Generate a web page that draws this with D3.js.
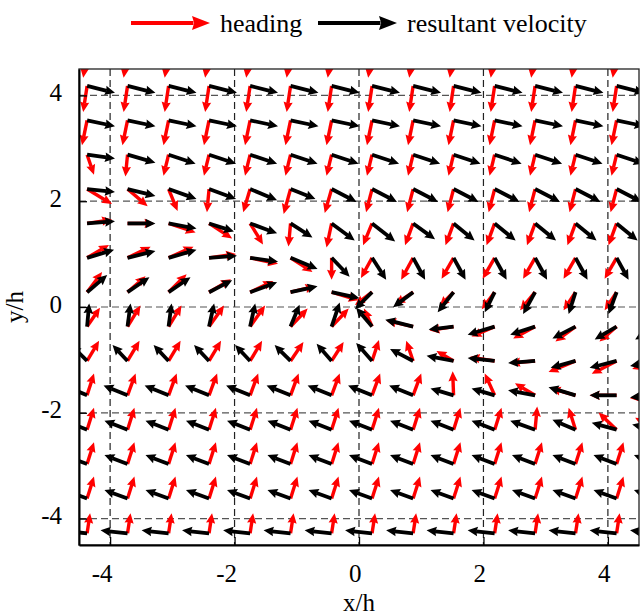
<!DOCTYPE html>
<html>
<head>
<meta charset="utf-8">
<script src="https://cdn.jsdelivr.net/npm/d3@7"></script>
<style>
  body { margin: 0; background: #fff; }
  svg { display: block; }
  text { font-family: "Liberation Serif", "Times New Roman", serif; fill: #000; }
</style>
</head>
<body>
<svg id="chart" width="640" height="616"></svg>
<script>
// Sample locations of the vector field (x/h across, y/h down the rows)
const gridX = [-4.37, -3.72, -3.06, -2.41, -1.75, -1.10, -0.44, 0.21, 0.87, 1.52, 2.18, 2.83, 3.48, 4.14, 4.79];
const gridY = [4.83, 4.18, 3.53, 2.88, 2.23, 1.58, 0.93, 0.28, -0.37, -1.02, -1.67, -2.32, -2.97, -3.62, -4.28];

const xTicks = [-4, -2, 0, 2, 4];
const yTicks = [-4, -2, 0, 2, 4];

// Heading direction [u, v] at every sample, one row per gridY entry
const heading = [
  [[-0.13,-0.87],[-0.13,-0.87],[-0.13,-0.87],[-0.13,-0.87],[-0.13,-0.87],[-0.13,-0.87],[-0.13,-0.87],[-0.13,-0.87],[-0.13,-0.87],[-0.13,-0.87],[-0.13,-0.87],[-0.13,-0.87],[-0.13,-0.87],[-0.13,-0.87],[-0.13,-0.87]],
  [[-0.13,-0.87],[-0.13,-0.87],[-0.13,-0.87],[-0.13,-0.87],[-0.13,-0.87],[-0.13,-0.87],[-0.13,-0.87],[-0.13,-0.87],[-0.13,-0.87],[-0.13,-0.87],[-0.13,-0.87],[-0.13,-0.87],[-0.13,-0.87],[-0.13,-0.87],[-0.13,-0.87]],
  [[-0.17,-0.83],[-0.17,-0.83],[-0.17,-0.83],[-0.17,-0.83],[-0.17,-0.83],[-0.17,-0.83],[-0.17,-0.83],[-0.17,-0.83],[-0.17,-0.83],[-0.17,-0.83],[-0.17,-0.83],[-0.17,-0.83],[-0.17,-0.83],[-0.17,-0.83],[-0.17,-0.83]],
  [[0.23,-0.67],[-0.07,-0.73],[-0.17,-0.7],[-0.17,-0.7],[-0.17,-0.7],[-0.17,-0.7],[-0.17,-0.7],[-0.17,-0.7],[-0.17,-0.7],[-0.17,-0.7],[-0.17,-0.7],[-0.17,-0.7],[-0.17,-0.7],[-0.17,-0.7],[-0.17,-0.7]],
  [[0.83,-0.5],[0.67,-0.57],[0.3,-0.73],[-0.07,-0.77],[-0.23,-0.77],[-0.23,-0.83],[-0.23,-0.8],[-0.2,-0.77],[-0.2,-0.77],[-0.2,-0.77],[-0.2,-0.77],[-0.2,-0.77],[-0.2,-0.77],[-0.2,-0.77],[-0.2,-0.77]],
  [[0.83,0.13],[0.9,0],[0.9,-0.3],[0.77,-0.5],[0.43,-0.7],[-0.07,-0.77],[-0.17,-0.8],[-0.3,-0.73],[-0.27,-0.73],[-0.27,-0.73],[-0.27,-0.73],[-0.27,-0.73],[-0.27,-0.73],[-0.27,-0.73],[-0.27,-0.73]],
  [[0.73,0.43],[0.77,0.37],[0.83,0.37],[0.9,0.13],[0.93,-0.2],[0.73,-0.47],[0,-0.73],[-0.37,-0.67],[-0.4,-0.73],[-0.4,-0.7],[-0.4,-0.7],[-0.4,-0.7],[-0.4,-0.7],[-0.4,-0.7],[-0.4,-0.7]],
  [[0.5,0.67],[0.6,0.53],[0.6,0.6],[0.73,0.43],[0.77,0.37],[0.83,0.2],[0.9,-0.27],[-0.57,-0.43],[-0.6,-0.4],[-0.47,-0.47],[-0.43,-0.57],[-0.5,-0.6],[-0.4,-0.6],[-0.4,-0.6],[-0.4,-0.6]],
  [[0.43,0.63],[0.43,0.7],[0.43,0.7],[0.5,0.7],[0.5,0.7],[0.57,0.6],[0.57,0.6],[-0.27,0.6],[-0.9,0.2],[-0.8,-0.13],[-0.77,-0.33],[-0.73,-0.4],[-0.67,-0.5],[-0.57,-0.5],[-0.57,-0.5]],
  [[0.4,0.67],[0.4,0.67],[0.4,0.67],[0.4,0.67],[0.4,0.67],[0.43,0.63],[0.4,0.63],[0.23,0.7],[-0.23,0.67],[-0.57,0.33],[-0.83,0.13],[-0.83,-0.07],[-0.9,-0.37],[-0.83,-0.43],[-0.83,-0.27]],
  [[0.23,0.73],[0.27,0.73],[0.27,0.73],[0.27,0.73],[0.27,0.73],[0.27,0.73],[0.27,0.73],[0.27,0.73],[0.27,0.73],[-0.03,0.8],[-0.33,0.73],[-0.67,0.4],[-0.83,0.23],[-0.9,0],[-0.9,-0.1]],
  [[0.23,0.73],[0.23,0.73],[0.23,0.73],[0.23,0.73],[0.23,0.73],[0.23,0.73],[0.23,0.73],[0.23,0.73],[0.23,0.73],[0.23,0.73],[0.23,0.73],[0.07,0.77],[-0.23,0.73],[-0.6,0.57],[-0.73,0.4]],
  [[0.23,0.73],[0.23,0.73],[0.23,0.73],[0.23,0.73],[0.23,0.73],[0.23,0.73],[0.23,0.73],[0.23,0.73],[0.23,0.73],[0.23,0.73],[0.23,0.73],[0.23,0.73],[0.23,0.73],[0.23,0.73],[0.23,0.73]],
  [[0.23,0.73],[0.23,0.73],[0.23,0.73],[0.23,0.73],[0.23,0.73],[0.23,0.73],[0.23,0.73],[0.23,0.73],[0.23,0.73],[0.23,0.73],[0.23,0.73],[0.23,0.73],[0.23,0.73],[0.23,0.73],[0.23,0.73]],
  [[0.1,0.67],[0.1,0.67],[0.1,0.67],[0.1,0.67],[0.1,0.67],[0.1,0.67],[0.1,0.67],[0.1,0.67],[0.1,0.67],[0.1,0.67],[0.1,0.67],[0.1,0.67],[0.1,0.67],[0.1,0.67],[0.1,0.67]]
];

// Resultant velocity [u, v] at every sample, one row per gridY entry
const velocity = [
  [[0.93,-0.23],[0.93,-0.23],[0.93,-0.23],[0.93,-0.23],[0.93,-0.23],[0.93,-0.23],[0.93,-0.23],[0.93,-0.23],[0.93,-0.23],[0.93,-0.23],[0.93,-0.23],[0.93,-0.23],[0.93,-0.23],[0.93,-0.23],[0.93,-0.23]],
  [[0.93,-0.23],[0.93,-0.23],[0.93,-0.23],[0.93,-0.23],[0.93,-0.23],[0.93,-0.23],[0.93,-0.23],[0.93,-0.23],[0.93,-0.23],[0.93,-0.23],[0.93,-0.23],[0.93,-0.23],[0.93,-0.23],[0.93,-0.23],[0.93,-0.23]],
  [[0.93,-0.2],[0.93,-0.2],[0.93,-0.2],[0.93,-0.2],[0.93,-0.2],[0.93,-0.2],[0.93,-0.2],[0.93,-0.2],[0.93,-0.2],[0.93,-0.2],[0.93,-0.2],[0.93,-0.2],[0.93,-0.2],[0.93,-0.2],[0.93,-0.2]],
  [[0.93,-0.13],[0.93,-0.27],[0.9,-0.3],[0.9,-0.3],[0.9,-0.3],[0.9,-0.3],[0.9,-0.3],[0.9,-0.3],[0.9,-0.3],[0.9,-0.3],[0.9,-0.3],[0.9,-0.3],[0.9,-0.3],[0.9,-0.3],[0.9,-0.3]],
  [[0.93,-0.1],[0.93,-0.23],[0.93,-0.33],[0.9,-0.33],[0.9,-0.37],[0.83,-0.33],[0.83,-0.43],[0.83,-0.43],[0.83,-0.43],[0.83,-0.43],[0.83,-0.43],[0.83,-0.43],[0.83,-0.43],[0.83,-0.43],[0.83,-0.43]],
  [[0.93,0.07],[0.93,0],[0.93,-0.17],[0.83,-0.27],[0.9,-0.33],[0.73,-0.47],[0.77,-0.57],[0.77,-0.6],[0.73,-0.53],[0.7,-0.57],[0.7,-0.57],[0.7,-0.57],[0.7,-0.57],[0.7,-0.57],[0.7,-0.57]],
  [[0.9,0.27],[0.93,0.23],[0.93,0.27],[0.93,0.07],[0.93,-0.13],[0.9,-0.37],[0.6,-0.63],[0.47,-0.73],[0.4,-0.73],[0.4,-0.73],[0.4,-0.73],[0.4,-0.73],[0.4,-0.73],[0.4,-0.73],[0.4,-0.73]],
  [[0.67,0.57],[0.73,0.5],[0.73,0.5],[0.77,0.4],[0.9,0.33],[0.9,0.2],[0.93,-0.2],[-0.57,-0.57],[-0.67,-0.5],[-0.53,-0.67],[-0.33,-0.67],[-0.4,-0.73],[-0.23,-0.73],[-0.27,-0.73],[-0.27,-0.73]],
  [[0.07,0.77],[0.1,0.77],[0.1,0.77],[0.17,0.77],[0.17,0.77],[0.3,0.73],[0.27,0.8],[-0.53,0.63],[-0.93,0.23],[-0.83,-0.1],[-0.9,-0.27],[-0.83,-0.27],[-0.77,-0.4],[-0.73,-0.43],[-0.73,-0.43]],
  [[-0.53,0.53],[-0.5,0.53],[-0.5,0.53],[-0.5,0.53],[-0.5,0.53],[-0.53,0.53],[-0.5,0.57],[-0.53,0.6],[-0.77,0.4],[-0.9,0.17],[-0.9,0.1],[-0.9,-0.07],[-0.83,-0.23],[-0.9,-0.23],[-0.9,-0.17]],
  [[-0.77,0.33],[-0.8,0.33],[-0.8,0.33],[-0.8,0.33],[-0.8,0.33],[-0.8,0.33],[-0.8,0.33],[-0.8,0.33],[-0.8,0.33],[-0.77,0.23],[-0.77,0.23],[-0.9,0.17],[-0.9,0.27],[-0.9,0],[-0.9,-0.07]],
  [[-0.77,0.3],[-0.77,0.3],[-0.77,0.3],[-0.77,0.3],[-0.77,0.3],[-0.77,0.3],[-0.77,0.3],[-0.77,0.3],[-0.77,0.3],[-0.77,0.3],[-0.77,0.3],[-0.83,0.3],[-0.77,0.33],[-0.83,0.23],[-0.83,0.17]],
  [[-0.77,0.3],[-0.77,0.3],[-0.77,0.3],[-0.77,0.3],[-0.77,0.3],[-0.77,0.3],[-0.77,0.3],[-0.77,0.3],[-0.77,0.3],[-0.77,0.3],[-0.77,0.3],[-0.77,0.3],[-0.77,0.3],[-0.77,0.3],[-0.77,0.3]],
  [[-0.77,0.28],[-0.77,0.28],[-0.77,0.28],[-0.77,0.28],[-0.77,0.28],[-0.77,0.28],[-0.77,0.28],[-0.77,0.28],[-0.77,0.28],[-0.77,0.28],[-0.77,0.28],[-0.77,0.28],[-0.77,0.28],[-0.77,0.28],[-0.77,0.28]],
  [[-0.9,0.1],[-0.9,0.1],[-0.9,0.1],[-0.9,0.1],[-0.9,0.1],[-0.9,0.1],[-0.9,0.1],[-0.9,0.1],[-0.9,0.1],[-0.9,0.1],[-0.9,0.1],[-0.9,0.1],[-0.9,0.1],[-0.9,0.1],[-0.9,0.1]]
];

const legendItems = [
  { label: "heading", color: "#ff0000" },
  { label: "resultant velocity", color: "#000000" }
];

const svg = d3.select("#chart");
const plot = { left: 79, right: 639, top: 69, bottom: 545 };

const x = d3.scaleLinear().domain([-4.5, 4.5]).range([plot.left, plot.right]);
const y = d3.scaleLinear().domain([-4.5, 4.5]).range([plot.bottom, plot.top]);
// arrow length in pixels per unit of vector magnitude
const arrowLen = d3.scaleLinear().domain([0, 1]).range([0, 30]);

svg.append("defs").append("clipPath").attr("id", "plotClip")
  .append("rect")
  .attr("x", plot.left).attr("y", plot.top)
  .attr("width", plot.right - plot.left).attr("height", plot.bottom - plot.top);

// dashed grid at the tick values
const grid = svg.append("g").attr("class", "grid");
grid.selectAll("line.gx").data(xTicks).join("line")
  .attr("x1", d => x(d)).attr("x2", d => x(d))
  .attr("y1", plot.top).attr("y2", plot.bottom)
  .attr("stroke", "#222").attr("stroke-width", 1.2).attr("stroke-dasharray", "7,4");
grid.selectAll("line.gy").data(yTicks).join("line")
  .attr("y1", d => y(d)).attr("y2", d => y(d))
  .attr("x1", plot.left).attr("x2", plot.right)
  .attr("stroke", "#555").attr("stroke-width", 1.2).attr("stroke-dasharray", "7,4");

// one arrow: shaft plus filled head, from (x0,y0) along (dx,dy) in pixels
function drawArrow(g, x0, y0, dx, dy, color, width, headLen, headHalf) {
  const L = Math.hypot(dx, dy);
  if (L < 0.5) return;
  const ux = dx / L, uy = dy / L;
  const h = Math.min(headLen, L * 0.6);
  const w = headHalf * h / headLen;
  const tx = x0 + dx, ty = y0 + dy;
  const bx = tx - ux * h, by = ty - uy * h;
  const nx = -uy, ny = ux;
  g.append("line")
    .attr("x1", x0).attr("y1", y0)
    .attr("x2", bx + ux * 1.5).attr("y2", by + uy * 1.5)
    .attr("stroke", color).attr("stroke-width", width);
  g.append("path")
    .attr("d", `M${tx},${ty}L${bx + nx * w},${by + ny * w}L${bx + ux * h * 0.12},${by + uy * h * 0.12}L${bx - nx * w},${by - ny * w}Z`)
    .attr("fill", color);
}

function drawField(field, color, width, headLen, headHalf) {
  const g = svg.append("g").attr("clip-path", "url(#plotClip)");
  field.forEach((row, i) => {
    row.forEach((vec, j) => {
      const x0 = x(gridX[j]), y0 = y(gridY[i]);
      const dx = arrowLen(vec[0]), dy = -arrowLen(vec[1]);
      drawArrow(g, x0, y0, dx, dy, color, width, headLen, headHalf);
    });
  });
}

drawField(heading, "#ff0000", 3.4, 10, 4.6);
drawField(velocity, "#000000", 3.8, 10, 4.8);

// frame
svg.append("rect")
  .attr("x", plot.left).attr("y", plot.top)
  .attr("width", plot.right - plot.left).attr("height", plot.bottom - plot.top)
  .attr("fill", "none").attr("stroke", "#222").attr("stroke-width", 1.3);

// axes
const xAxis = svg.append("g")
  .attr("transform", `translate(0,${plot.bottom})`)
  .call(d3.axisBottom(x).tickValues(xTicks).tickSizeInner(-8).tickSizeOuter(0).tickFormat(d3.format("d")));
xAxis.select(".domain").attr("stroke", "#000").attr("stroke-width", 2);
xAxis.selectAll(".tick line").attr("stroke", "#000").attr("stroke-width", 1.3);
xAxis.selectAll(".tick text")
  .attr("font-size", 25).attr("font-family", "Liberation Serif, serif")
  .attr("text-anchor", "end").attr("x", 2).attr("y", 37).attr("dy", 0)
  .text(d => String(d).replace("\u2212", "-"));

const yAxis = svg.append("g")
  .attr("transform", `translate(${plot.left},0)`)
  .call(d3.axisLeft(y).tickValues(yTicks).tickSizeInner(-8).tickSizeOuter(0).tickFormat(d3.format("d")));
yAxis.select(".domain").attr("stroke", "#000").attr("stroke-width", 2);
yAxis.selectAll(".tick line").attr("stroke", "#000").attr("stroke-width", 1.3);
yAxis.selectAll(".tick text")
  .attr("font-size", 25).attr("font-family", "Liberation Serif, serif")
  .attr("text-anchor", "end").attr("x", -17).attr("dy", "0.2em")
  .text(d => String(d).replace("\u2212", "-"));

// axis titles
svg.append("text")
  .attr("x", x(0)).attr("y", 611)
  .attr("text-anchor", "middle").attr("font-size", 25)
  .text("x/h");
svg.append("text")
  .attr("transform", `translate(23,${y(0)}) rotate(-90)`)
  .attr("text-anchor", "middle").attr("font-size", 25)
  .text("y/h");

// legend
const legendX = [131, 318];
const legend = svg.append("g");
legendItems.forEach((item, i) => {
  drawArrow(legend, legendX[i], 23, 79, 0, item.color, 4, 18, 7);
  legend.append("text")
    .attr("x", legendX[i] + 89).attr("y", 32)
    .attr("font-size", 26)
    .text(item.label);
});
</script>
</body>
</html>
